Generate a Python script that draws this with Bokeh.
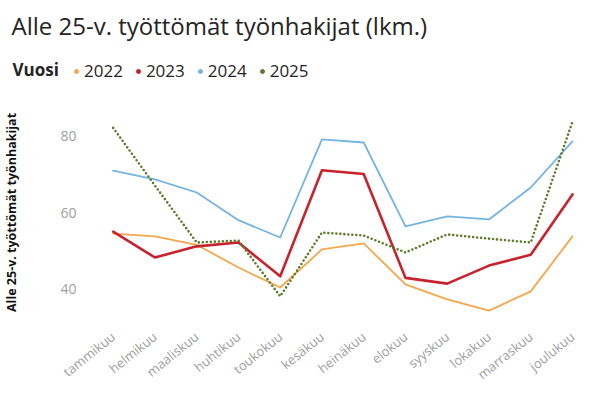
from bokeh.plotting import figure
from bokeh.layouts import column
from bokeh.models import Range1d, FixedTicker, Legend, LegendItem, Label
from bokeh.embed import file_html
from bokeh.resources import INLINE

months = ["tammikuu", "helmikuu", "maaliskuu", "huhtikuu", "toukokuu", "kesäkuu",
          "heinäkuu", "elokuu", "syyskuu", "lokakuu", "marraskuu", "joulukuu"]
years = ["2022", "2023", "2024", "2025"]
v2022 = [54.5, 53.8, 51.6, 45.7, 40.5, 50.4, 52.0, 41.3, 37.4, 34.5, 39.5, 53.8]
v2023 = [55.0, 48.3, 51.2, 52.2, 43.4, 71.0, 70.0, 43.0, 41.5, 46.2, 49.0, 64.7]
v2024 = [70.9, 68.6, 65.2, 58.0, 53.5, 79.0, 78.2, 56.4, 59.0, 58.2, 66.5, 78.5]
v2025 = [82.0, 67.0, 52.2, 52.7, 38.2, 54.8, 54.0, 49.6, 54.3, 53.2, 52.2, 83.6]
y_ticks = [40, 60, 80]
title_text = "Alle 25-v. työttömät työnhakijat (lkm.)"
legend_title = "Vuosi"

colors = ["#F5A74B", "#C8222D", "#74B4E0", "#5F7A2A"]
widths = [1.8, 2.6, 1.8, 2.6]
dashes = ["solid", "solid", "solid", "0 4"]
series = [v2022, v2023, v2024, v2025]

FONT = "Open Sans"
W = 579
HEAD_H = 80

# ---- header: title + legend ----
h = figure(width=W, height=HEAD_H, output_backend="svg", toolbar_location=None,
           x_range=Range1d(0, 1), y_range=Range1d(0, 1),
           x_axis_type=None, y_axis_type=None,
           min_border_left=0, min_border_right=0, min_border_top=0, min_border_bottom=0)
h.frame_align = False
h.outline_line_color = None
h.xgrid.visible = False
h.ygrid.visible = False

h.add_layout(Label(x=11, y=55, x_units="screen", y_units="screen", text=title_text,
                   text_font=FONT, text_font_size="24px", text_color="#252423",
                   text_baseline="alphabetic"))
h.add_layout(Label(x=12, y=11, x_units="screen", y_units="screen", text=legend_title,
                   text_font=FONT, text_font_size="17px", text_font_style="bold",
                   text_color="#252423", text_baseline="alphabetic"))

items = []
for yr, c in zip(years, colors):
    # a single off-range point so the legend can draw its circle marker
    dummy = h.scatter(x=[-10], y=[-10], size=10, fill_color=c, line_color=c, marker="circle")
    items.append(LegendItem(label=yr, renderers=[dummy]))

legend = Legend(items=items, orientation="horizontal", location=(71, -2))
legend.label_text_font = FONT
legend.label_text_font_size = "17px"
legend.label_text_color = "#252423"
legend.label_standoff = 3
legend.glyph_width = 10
legend.glyph_height = 10
legend.spacing = 10
legend.padding = 0
legend.margin = 0
legend.border_line_color = None
legend.background_fill_alpha = 0
h.add_layout(legend, "center")

# ---- main chart ----
p = figure(width=W, height=397 - HEAD_H, output_backend="svg", toolbar_location=None,
           x_range=Range1d(-0.567, 11.12), y_range=Range1d(31.4, 88.6),
           min_border_left=0, min_border_right=2, min_border_top=102 - HEAD_H,
           min_border_bottom=75)
p.frame_align = False
p.outline_line_color = None
p.xgrid.visible = False
p.ygrid.visible = False

xs = list(range(len(months)))
for yr, vals, c, w, d in zip(years, series, colors, widths, dashes):
    p.line(xs, vals, line_color=c, line_width=w, line_dash=d, line_cap="round", line_join="round")

xa = p.xaxis[0]
xa.ticker = FixedTicker(ticks=xs)
xa.major_label_overrides = {i: m for i, m in enumerate(months)}
xa.major_label_orientation = 0.68
xa.major_label_text_font = FONT
xa.major_label_text_font_size = "13px"
xa.major_label_text_color = "#A0A0A0"
xa.axis_line_color = None
xa.major_tick_line_color = None
xa.minor_tick_line_color = None
xa.major_label_standoff = 6

ya = p.yaxis[0]
ya.ticker = FixedTicker(ticks=y_ticks)
ya.major_label_text_font = FONT
ya.major_label_text_font_size = "14px"
ya.major_label_text_color = "#A0A0A0"
ya.axis_line_color = None
ya.major_tick_line_color = None
ya.minor_tick_line_color = None
ya.major_label_standoff = 7
ya.axis_label = "Alle 25-v. työttömät työnhakijat"
ya.axis_label_text_font = FONT
ya.axis_label_text_font_size = "12.5px"
ya.axis_label_text_font_style = "bold"
ya.axis_label_text_color = "#111111"
ya.axis_label_standoff = 37

layout = column(h, p, spacing=0)
open("out.html", "w").write(file_html(layout, INLINE))
